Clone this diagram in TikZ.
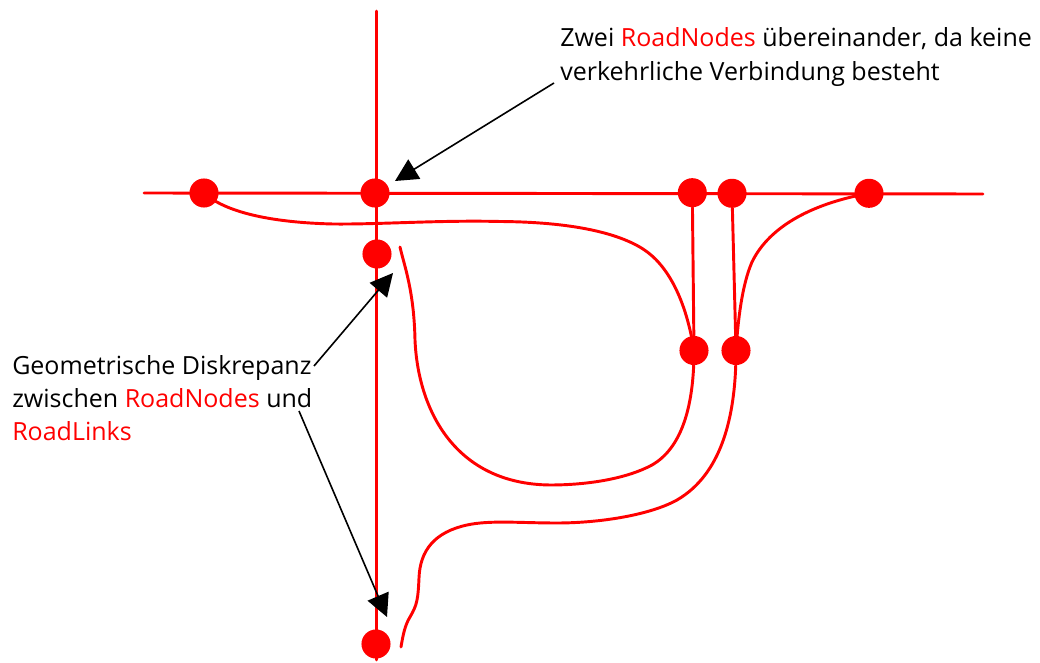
\documentclass[tikz,border=0pt]{standalone}
\usepackage{fontspec}
\setmainfont{Open Sans}
\usetikzlibrary{arrows.meta}
\definecolor{rd}{RGB}{255,0,0}
\tikzset{
 px/.style={x=0.75pt,y=-0.75pt},
 road/.style={draw=rd,line width=2.2pt,line cap=round,line join=round},
 rn/.style={circle,fill=rd,draw=none,minimum size=21.8pt,inner sep=0pt},
 lbl/.style={anchor=west,inner sep=0pt,font=\fontsize{18.75pt}{24.9pt}\selectfont,align=left},
 pt/.style={line width=1.2pt,-{Triangle[length=17pt,width=17pt]}}
}
\begin{document}
\begin{tikzpicture}[px]
\useasboundingbox (0,0) rectangle (1040,663);
\fill[white] (0,0) rectangle (1040,663);
\coordinate (vt) at (376.5,11); \coordinate (vb) at (376.5,660);
\coordinate (hl) at (144,193); \coordinate (hr) at (983,194);
\draw[road] (vt) -- (vb);
\draw[road] (hl) -- (hr);
\node[rn] (a) at (204,193) {};
\node[rn] (b) at (375,193) {};
\node[rn] (c) at (692.3,192.7) {};
\node[rn] (d) at (732,193.3) {};
\node[rn] (e) at (869,193.3) {};
\node[rn] (f) at (377,254) {};
\node[rn] (g) at (694,350.5) {};
\node[rn] (h) at (736,350.5) {};
\node[rn] (i) at (376,644) {};
\coordinate (s1) at (400,247);
\coordinate (s2) at (401,647);
\draw[road] (c) -- (g);
\draw[road] (d) -- (h);
\draw[road] (a.center) .. controls (225,212) and (270,222.5) .. (333,224) .. controls (380,224.5) and (440,220) .. (500,221.5) .. controls (572,222) and (618,233) .. (643,249) .. controls (668,265) and (686,300) .. (g.center);
\draw[road] (e.center) .. controls (815,203) and (770,225) .. (752,262) .. controls (742,285) and (738,320) .. (h.center);
\draw[road] (s1) .. controls (404,265) and (414,290) .. (415,340) .. controls (418,410) and (455,484) .. (550,485) .. controls (590,485) and (628,478) .. (652,465) .. controls (680,449) and (694,410) .. (g.center);
\draw[road] (h.center) .. controls (736,420) and (720,475) .. (677,500) .. controls (650,515) and (600,523) .. (557,523) .. controls (520,523) and (490,520) .. (467,525) .. controls (435,532) and (420,550) .. (419,578) .. controls (418,600) and (417,605) .. (410,617) .. controls (405,625) and (403,635) .. (s2);
\coordinate (n1) at (554,83); \coordinate (t1) at (395,181);
\coordinate (n2) at (314,366); \coordinate (t2) at (393,273);
\coordinate (n3) at (299,411); \coordinate (t3) at (387,617);
\draw[pt] (n1) -- (t1);
\draw[pt] (n2) -- (t2);
\draw[pt] (n3) -- (t3);
\node[lbl] (l1) at (560,57) {Zwei \textcolor{rd}{RoadNodes} übereinander, da keine\\verkehrliche Verbindung besteht};
\node[lbl] (l2) at (12,398) {Geometrische Diskrepanz\\zwischen \textcolor{rd}{RoadNodes} und\\\textcolor{rd}{RoadLinks}};
\end{tikzpicture}
\end{document}
